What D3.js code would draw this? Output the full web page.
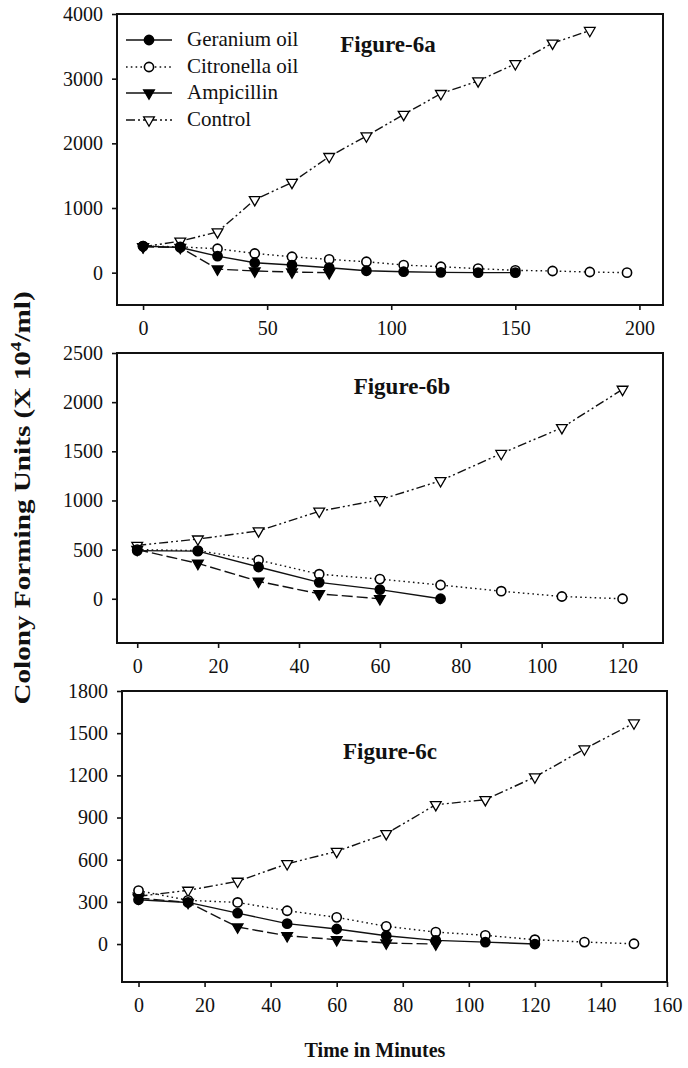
<!DOCTYPE html>
<html>
<head>
<meta charset="utf-8">
<script src="https://cdn.jsdelivr.net/npm/d3@7"></script>
<style>
  html, body { margin: 0; padding: 0; background: #fff; }
  svg { display: block; }
  text { font-family: "Liberation Serif", "Times New Roman", serif; fill: #111; }
</style>
</head>
<body>
<svg id="chart" width="688" height="1068"></svg>
<script>
// ---------------- DATA ----------------
const seriesNames = ["Geranium oil", "Citronella oil", "Ampicillin", "Control"];

// Figure 6a
const minutesA = [0, 15, 30, 45, 60, 75, 90, 105, 120, 135, 150, 165, 180, 195];
const geraniumA   = [410, 390, 256, 154, 118, 77, 30, 15, 5, 0, 0];
const citronellaA = [410, 400, 370, 297, 246, 205, 169, 118, 92, 62, 36, 26, 10, 0];
const ampicillinA = [400, 390, 55, 26, 10, 0];
const controlA    = [400, 487, 630, 1128, 1395, 1795, 2113, 2446, 2769, 2964, 3230, 3549, 3744];
const yTicksA = [0, 1000, 2000, 3000, 4000];
const xTicksA = [0, 50, 100, 150, 200];

// Figure 6b
const minutesB = [0, 15, 30, 45, 60, 75, 90, 105, 120];
const geraniumB   = [490, 485, 323, 167, 93, 0];
const citronellaB = [500, 490, 393, 250, 200, 140, 77, 23, 0];
const ampicillinB = [500, 360, 177, 50, 0];
const controlB    = [543, 607, 690, 890, 1007, 1200, 1477, 1740, 2130];
const yTicksB = [0, 500, 1000, 1500, 2000, 2500];
const xTicksB = [0, 20, 40, 60, 80, 100, 120];

// Figure 6c
const minutesC = [0, 15, 30, 45, 60, 75, 90, 105, 120, 135, 150];
const geraniumC   = [315, 296, 220, 145, 107, 59, 26, 14, 0];
const citronellaC = [380, 311, 296, 237, 190, 126, 85, 62, 31, 14, 2];
const ampicillinC = [327, 296, 121, 59, 31, 7, 0];
const controlC    = [340, 382, 446, 571, 659, 785, 991, 1027, 1188, 1387, 1572];
const yTicksC = [0, 300, 600, 900, 1200, 1500, 1800];
const xTicksC = [0, 20, 40, 60, 80, 100, 120, 140, 160];

const panelTitles = ["Figure-6a", "Figure-6b", "Figure-6c"];

// ---------------- LAYOUT ----------------
const FONT = '"Liberation Serif", "Times New Roman", serif';
const panels = [
  { title: panelTitles[0], minutes: minutesA,
    series: [geraniumA, citronellaA, ampicillinA, controlA],
    xDomain: [-10.5, 209.5], yDomain: [-500, 4000], xTicks: xTicksA, yTicks: yTicksA,
    left: 117, right: 663, top: 14, bottom: 305, titleX: 388, titleY: 52, legend: true },
  { title: panelTitles[1], minutes: minutesB,
    series: [geraniumB, citronellaB, ampicillinB, controlB],
    xDomain: [-5, 130], yDomain: [-450, 2500], xTicks: xTicksB, yTicks: yTicksB,
    left: 117, right: 663, top: 353, bottom: 643, titleX: 402, titleY: 394, legend: false },
  { title: panelTitles[2], minutes: minutesC,
    series: [geraniumC, citronellaC, ampicillinC, controlC],
    xDomain: [-5, 160], yDomain: [-270, 1800], xTicks: xTicksC, yTicks: yTicksC,
    left: 122, right: 667, top: 691, bottom: 982, titleX: 390, titleY: 759, legend: false }
];

const styles = [
  { dash: null,            marker: "circle",   fill: "#000" },
  { dash: "1.6,3.2",       marker: "circle",   fill: "#fff" },
  { dash: "11,4",          marker: "triangle", fill: "#000" },
  { dash: "9,3,2,3,2,3",   marker: "triangle", fill: "#fff" }
];

const svg = d3.select("#chart");

function drawMarker(g, st, x, y) {
  if (st.marker === "circle") {
    g.append("circle").attr("cx", x).attr("cy", y).attr("r", 4.6)
      .attr("fill", st.fill).attr("stroke", "#000").attr("stroke-width", 1.6);
  } else {
    const sym = d3.symbol().type(d3.symbolTriangle).size(50);
    g.append("path").attr("d", sym())
      .attr("transform", `translate(${x},${y}) rotate(180)`)
      .attr("fill", st.fill).attr("stroke", "#000").attr("stroke-width", 1.3);
  }
}

panels.forEach(p => {
  const x = d3.scaleLinear().domain(p.xDomain).range([p.left, p.right]);
  const y = d3.scaleLinear().domain(p.yDomain).range([p.bottom, p.top]);
  const g = svg.append("g");

  // axes
  const fmt = d3.format("d");
  const yAxis = d3.axisLeft(y).tickValues(p.yTicks).tickFormat(fmt)
    .tickSize(5).tickSizeOuter(0).tickPadding(9);
  const xAxis = d3.axisBottom(x).tickValues(p.xTicks).tickFormat(fmt)
    .tickSize(5).tickSizeOuter(0).tickPadding(11);
  const ya = g.append("g").attr("transform", `translate(${p.left},0)`).call(yAxis);
  const xa = g.append("g").attr("transform", `translate(0,${p.bottom})`).call(xAxis);
  [ya, xa].forEach(a => {
    a.attr("font-family", FONT);
    a.select(".domain").remove();
    a.selectAll(".tick line").attr("stroke", "#111").attr("stroke-width", 1.6);
    a.selectAll(".tick text").attr("font-size", 20).attr("fill", "#111")
      .attr("font-family", FONT);
  });

  // frame
  g.append("rect").attr("x", p.left).attr("y", p.top)
    .attr("width", p.right - p.left).attr("height", p.bottom - p.top)
    .attr("fill", "none").attr("stroke", "#111").attr("stroke-width", 2);

  // lines
  p.series.forEach((vals, si) => {
    const st = styles[si];
    const pts = vals.map((v, i) => [p.minutes[i], v]);
    const line = d3.line().x(d => x(d[0])).y(d => y(d[1]));
    g.append("path").datum(pts).attr("d", line)
      .attr("fill", "none").attr("stroke", "#111").attr("stroke-width", 1.4)
      .attr("stroke-dasharray", st.dash);
  });
  // markers
  [3, 1, 2, 0].forEach(si => {
    const st = styles[si];
    p.series[si].forEach((v, i) => drawMarker(g, st, x(p.minutes[i]), y(v)));
  });

  // title
  g.append("text").attr("x", p.titleX).attr("y", p.titleY)
    .attr("text-anchor", "middle").attr("font-size", 23).attr("font-weight", "bold")
    .attr("font-family", FONT)
    .text(p.title);

  // legend
  if (p.legend) {
    const lg = g.append("g");
    const rowY = [40, 67, 93, 120];
    seriesNames.forEach((name, si) => {
      const st = styles[si];
      lg.append("line").attr("x1", 126).attr("x2", 172).attr("y1", rowY[si]).attr("y2", rowY[si])
        .attr("stroke", "#111").attr("stroke-width", 1.4)
        .attr("stroke-dasharray", si === 2 ? null : st.dash);
      drawMarker(lg, st, 149, rowY[si]);
      lg.append("text").attr("x", 187).attr("y", rowY[si] + 6)
        .attr("font-size", 21).attr("font-family", FONT).text(name);
    });
  }
});

// axis titles
svg.append("text")
  .attr("transform", "translate(30,498) rotate(-90) scale(1.27,1)")
  .attr("text-anchor", "middle").attr("font-size", 23).attr("font-weight", "bold")
  .attr("font-family", FONT)
  .call(t => {
    t.append("tspan").text("Colony Forming Units (X 10");
    t.append("tspan").attr("dy", -9).attr("font-size", 15).text("4");
    t.append("tspan").attr("dy", 9).text("/ml)");
  });

svg.append("text").attr("x", 375).attr("y", 1057)
  .attr("text-anchor", "middle").attr("font-size", 20).attr("font-weight", "bold")
  .attr("font-family", FONT)
  .text("Time in Minutes");
</script>
</body>
</html>
